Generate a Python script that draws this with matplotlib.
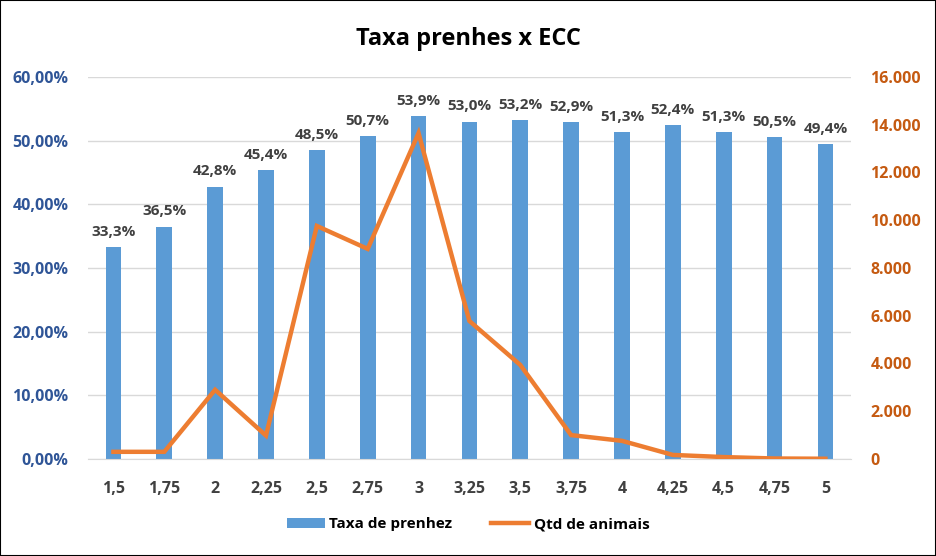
import matplotlib
matplotlib.use("Agg")
import matplotlib.pyplot as plt
from matplotlib.patches import Rectangle
from matplotlib.ticker import FuncFormatter, MultipleLocator

categories = ["1,5", "1,75", "2", "2,25", "2,5", "2,75", "3", "3,25", "3,5", "3,75", "4", "4,25", "4,5", "4,75", "5"]
taxa_prenhez = [33.3, 36.5, 42.8, 45.4, 48.5, 50.7, 53.9, 53.0, 53.2, 52.9, 51.3, 52.4, 51.3, 50.5, 49.4]
qtd_animais = [300, 300, 2900, 980, 9760, 8800, 13650, 5780, 3940, 1000, 760, 170, 80, 20, 10]

plt.rcParams['font.family'] = ['Open Sans', 'DejaVu Sans']

fig = plt.figure(figsize=(9.36, 5.56), dpi=100)
ax = fig.add_axes([0.094, 0.1745, 0.815, 0.687])
ax2 = ax.twinx()

x = list(range(len(categories)))
bars = ax.bar(x, taxa_prenhez, width=0.31, color="#5B9BD5", label="Taxa de prenhez", zorder=2)
line, = ax2.plot(x, qtd_animais, color="#ED7D31", lw=3.2, label="Qtd de animais", solid_joinstyle="miter", zorder=3)

ax.set_xlim(-0.5, len(categories) - 0.5)
ax.set_ylim(0, 60)
ax2.set_ylim(0, 16000)
ax.yaxis.set_major_locator(MultipleLocator(10))
ax2.yaxis.set_major_locator(MultipleLocator(2000))
ax.yaxis.set_major_formatter(FuncFormatter(lambda v, p: f"{v:.2f}%".replace(".", ",")))
ax2.yaxis.set_major_formatter(FuncFormatter(lambda v, p: f"{int(v):,}".replace(",", ".")))
ax.set_xticks(x)
ax.set_xticklabels(categories)

ax.grid(axis="y", color="#D9D9D9", lw=1, zorder=0)
ax.set_axisbelow(True)
for a in (ax, ax2):
    for s in a.spines.values():
        s.set_visible(False)
    a.tick_params(length=0)
ax.spines["bottom"].set_visible(True)
ax.spines["bottom"].set_color("#D9D9D9")

for lbl in ax.get_yticklabels():
    lbl.set_color("#2F5597"); lbl.set_fontweight("bold"); lbl.set_fontsize(11.5)
for lbl in ax2.get_yticklabels():
    lbl.set_color("#C55A11"); lbl.set_fontweight("bold"); lbl.set_fontsize(11.5)
for lbl in ax.get_xticklabels():
    lbl.set_color("#404040"); lbl.set_fontweight("bold"); lbl.set_fontsize(11.5)
ax.tick_params(axis="y", pad=14)
ax2.tick_params(axis="y", pad=14)
ax.tick_params(axis="x", pad=16)

for xi, v in zip(x, taxa_prenhez):
    ax.annotate(f"{v:.1f}%".replace(".", ","), (xi, v), xytext=(0, 6), textcoords="offset points",
                ha="center", va="bottom", fontsize=11, fontweight="bold", color="#404040")

fig.suptitle("Taxa prenhes x ECC", y=0.952, fontsize=17, fontweight="bold", color="black")

fig.legend([bars, line], ["Taxa de prenhez", "Qtd de animais"], loc="center", bbox_to_anchor=(0.5, 0.057),
           ncol=2, frameon=False, prop={"weight": "bold", "size": 11}, handlelength=2.5, columnspacing=2.5,
           handletextpad=0.3)

fig.patches.append(Rectangle((0, 0), 1, 1, transform=fig.transFigure, fill=False, edgecolor="black", lw=1.5))
fig.savefig("out.png", dpi=100)
